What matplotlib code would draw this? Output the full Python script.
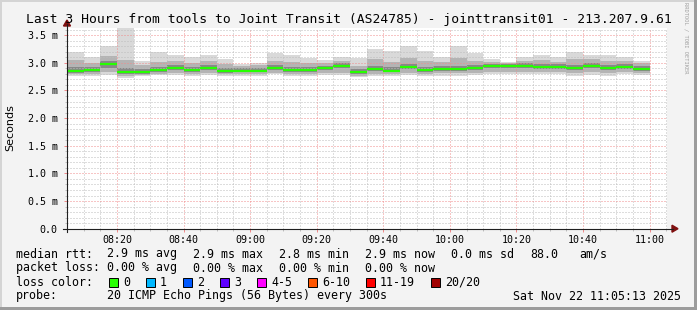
"""
plot.py
-------
Gráfica estilo SmokePing: latencia de las últimas 3 horas hacia
jointtransit01, con el "humo" (dispersión de los 20 pings) en grises
y la mediana en verde (0 % de pérdida).
"""

import matplotlib
matplotlib.use("Agg")
import matplotlib.pyplot as plt
from matplotlib.lines import Line2D
from matplotlib.patches import Rectangle, Polygon

W, H = 697, 310
MONO = "DejaVu Sans Mono"

# --- datos (ms) ----------------------------------------------------------
inicio = ["08:05", "08:10", "08:15", "08:20", "08:25", "08:30", "08:35",
          "08:40", "08:45", "08:50", "08:55", "09:00", "09:05", "09:10",
          "09:15", "09:20", "09:25", "09:30", "09:35", "09:40", "09:45",
          "09:50", "09:55", "10:00", "10:05", "10:10", "10:15", "10:20",
          "10:25", "10:30", "10:35", "10:40", "10:45", "10:50", "10:55"]
mediana = [2.85, 2.87, 2.97, 2.83, 2.83, 2.875, 2.905, 2.875, 2.905, 2.85,
           2.86, 2.86, 2.90, 2.875, 2.875, 2.905, 2.94, 2.825, 2.88, 2.86,
           2.92, 2.87, 2.89, 2.885, 2.905, 2.94, 2.945, 2.945, 2.92, 2.92,
           2.90, 2.94, 2.905, 2.92, 2.89]
maximo = [3.19, 3.11, 3.31, 3.70, 3.03, 3.19, 3.14, 3.11, 3.15, 3.07,
          2.98, 3.00, 3.17, 3.14, 3.09, 3.05, 3.11, 3.08, 3.25, 3.22,
          3.30, 3.21, 3.11, 3.31, 3.18, 3.06, 3.02, 3.11, 3.15, 3.10,
          3.20, 3.15, 3.15, 3.11, 3.03]
minimo = [2.76, 2.77, 2.78, 2.72, 2.76, 2.78, 2.78, 2.77, 2.78, 2.76,
          2.77, 2.77, 2.79, 2.77, 2.77, 2.78, 2.78, 2.74, 2.76, 2.76,
          2.78, 2.76, 2.77, 2.77, 2.78, 2.80, 2.80, 2.80, 2.79, 2.79,
          2.77, 2.78, 2.77, 2.79, 2.78]
p90 = [3.05, 3.00, 3.12, 3.05, 2.96, 3.02, 3.03, 3.00, 3.04, 2.98,
       2.95, 2.96, 3.04, 3.02, 2.99, 3.00, 3.03, 2.95, 3.06, 3.02,
       3.08, 3.04, 3.01, 3.08, 3.04, 3.01, 2.99, 3.04, 3.05, 3.02,
       3.06, 3.06, 3.04, 3.03, 2.99]
p10 = [2.79, 2.80, 2.83, 2.77, 2.78, 2.80, 2.81, 2.80, 2.81, 2.79,
       2.80, 2.80, 2.82, 2.80, 2.80, 2.81, 2.82, 2.77, 2.80, 2.79,
       2.82, 2.80, 2.81, 2.81, 2.82, 2.84, 2.84, 2.84, 2.83, 2.83,
       2.81, 2.83, 2.81, 2.83, 2.81]
p75 = [2.92, 2.93, 3.03, 2.90, 2.88, 2.93, 2.96, 2.93, 2.96, 2.91,
       2.91, 2.91, 2.96, 2.93, 2.93, 2.95, 2.99, 2.89, 2.95, 2.93,
       2.98, 2.93, 2.94, 2.95, 2.96, 2.98, 2.98, 2.99, 2.97, 2.97,
       2.96, 2.99, 2.96, 2.97, 2.94]
p25 = [2.82, 2.84, 2.91, 2.80, 2.80, 2.84, 2.87, 2.84, 2.87, 2.82,
       2.83, 2.83, 2.87, 2.84, 2.84, 2.87, 2.90, 2.79, 2.85, 2.83,
       2.88, 2.84, 2.86, 2.85, 2.87, 2.91, 2.91, 2.91, 2.89, 2.89,
       2.87, 2.90, 2.87, 2.89, 2.86]

etiquetas_x = ["08:20", "08:40", "09:00", "09:20", "09:40",
               "10:00", "10:20", "10:40", "11:00"]
etiquetas_y = ["0.0", "0.5 m", "1.0 m", "1.5 m", "2.0 m", "2.5 m", "3.0 m", "3.5 m"]
valores_y = [0.0, 0.5, 1.0, 1.5, 2.0, 2.5, 3.0, 3.5]

perdida_nombres = ["0", "1", "2", "3", "4-5", "6-10", "11-19", "20/20"]
perdida_colores = ["#26ff00", "#00b8ff", "#0059ff", "#5e00ff",
                   "#ff00ff", "#ff5500", "#ff0000", "#a10000"]

ventana_ini, ventana_fin = "08:05:13", "11:05:13"


def a_minutos(hhmm):
    partes = [int(p) for p in hhmm.split(":")]
    while len(partes) < 3:
        partes.append(0)
    return (partes[0] - 8) * 60 + partes[1] + partes[2] / 60.0


def px(x, y):
    """Pixel de la imagen (origen arriba-izquierda) -> fracción de figura."""
    return x / W, 1 - y / H


x0 = [a_minutos(t) for t in inicio]

fig = plt.figure(figsize=(W / 100, H / 100), dpi=100, facecolor="#f3f3f3")

# marco 3D de rrdtool
for (x, y, w, h, c) in [(0, 0, W, 2, "#d4d4d4"), (0, 0, 2, H, "#d4d4d4"),
                        (0, H - 3, W, 3, "#9c9c9c"), (W - 3, 0, 3, H, "#9c9c9c")]:
    fx, fy = px(x, y + h)
    fig.add_artist(Rectangle((fx, fy), w / W, h / H, transform=fig.transFigure,
                             facecolor=c, edgecolor="none"))

top_px, bot_px = 28.3, 228.7
left_px, right_px = 67, 667
ax = fig.add_axes([left_px / W, (H - bot_px) / H,
                   (right_px - left_px) / W, (bot_px - top_px) / H])
ax.set_facecolor("white")
ax.set_xlim(a_minutos(ventana_ini), a_minutos(ventana_fin))
ax.set_ylim(0, (bot_px - top_px) / 55.3)

# humo: capas de gris de afuera hacia adentro
capas = [(minimo, maximo, "#d9d9d9"), (p10, p90, "#b4b4b4"), (p25, p75, "#888888")]
for lo, hi, color in capas:
    ax.bar(x0, [h - l for l, h in zip(lo, hi)], bottom=lo, width=5,
           align="edge", color=color, linewidth=0, zorder=1)
ax.hlines(mediana, x0, [x + 5 for x in x0], color=perdida_colores[0],
          linewidth=1.6, zorder=3)

# rejilla punteada
ax.set_xticks([a_minutos(t) for t in etiquetas_x])
ax.set_xticklabels(etiquetas_x, fontfamily=MONO, fontsize=7.2)
ax.set_xticks([a_minutos(t) for t in inicio] + [a_minutos("11:05")], minor=True)
ax.set_yticks(valores_y)
ax.set_yticklabels(etiquetas_y, fontfamily=MONO, fontsize=7.2)
ax.set_yticks([i / 10 for i in range(0, 37)], minor=True)
ax.set_axisbelow(False)
ax.grid(which="minor", color="#bdbdbd", linestyle=(0, (1, 2)), linewidth=0.72)
ax.grid(which="major", color="#f08c8c", linestyle=(0, (1, 2)), linewidth=0.72)
ax.tick_params(which="major", length=2.2, width=0.72, color="#f08c8c", pad=2.5)
ax.tick_params(axis="y", which="major", pad=4.5)
ax.tick_params(which="minor", length=1.5, width=0.72, color="#c0c0c0")
for s in ax.spines.values():
    s.set_visible(False)

# ejes con flechas
fig.add_artist(Line2D(*zip(px(67, 232), px(67, 24)), transform=fig.transFigure,
                      color="#202020", linewidth=0.8))
fig.add_artist(Line2D(*zip(px(63, bot_px), px(673, bot_px)), transform=fig.transFigure,
                      color="#202020", linewidth=0.8))
fig.add_artist(Polygon([px(67, 20), px(63.5, 26), px(70.5, 26)], closed=True,
                       transform=fig.transFigure, color="#801010"))
fig.add_artist(Polygon([px(678, bot_px), px(672, bot_px - 3.5), px(672, bot_px + 3.5)],
                       closed=True, transform=fig.transFigure, color="#801010"))

# textos
fig.text(*px(348.5, 19), "Last 3 Hours from tools to Joint Transit (AS24785) - "
         "jointtransit01 - 213.207.9.61", fontfamily=MONO, fontsize=9.4,
         ha="center", va="center")
fig.text(*px(10, 128), "Seconds", fontsize=8, rotation=90, ha="center", va="center")
fig.text(*px(686, 38), "RRDTOOL / TOBI OETIKER", fontfamily=MONO, fontsize=3.9,
         color="#a0a0a0", rotation=270, ha="center", va="center")

fs = 8.4
filas = [
    (254, [(16, "median rtt:"), (107, "2.9 ms avg"), (193, "2.9 ms max"),
           (279, "2.8 ms min"), (365, "2.9 ms now"), (451, "0.0 ms sd"),
           (530, "88.0"), (579, "am/s")]),
    (268, [(16, "packet loss:"), (107, "0.00 % avg"), (193, "0.00 % max"),
           (279, "0.00 % min"), (365, "0.00 % now")]),
    (282, [(16, "loss color:")]),
    (296, [(16, "probe:"), (107, "20 ICMP Echo Pings (56 Bytes) every 300s")]),
]
for y, items in filas:
    for x, s in items:
        fig.text(*px(x, y), s, fontfamily=MONO, fontsize=fs, ha="left", va="center")
fig.text(*px(681, 296), "Sat Nov 22 11:05:13 2025", fontfamily=MONO, fontsize=fs,
         ha="right", va="center")

cajas_x = [108.5, 145.5, 182.5, 219.5, 256.5, 307.5, 365.5, 431]
for bx, nombre, color in zip(cajas_x, perdida_nombres, perdida_colores):
    fx, fy = px(bx, 287)
    fig.add_artist(Rectangle((fx, fy), 9 / W, 9 / H, transform=fig.transFigure,
                             facecolor=color, edgecolor="black", linewidth=0.7))
    fig.text(*px(bx + 14.5, 282), nombre, fontfamily=MONO, fontsize=fs,
             ha="left", va="center")

fig.savefig("out.png", dpi=100, facecolor=fig.get_facecolor())
